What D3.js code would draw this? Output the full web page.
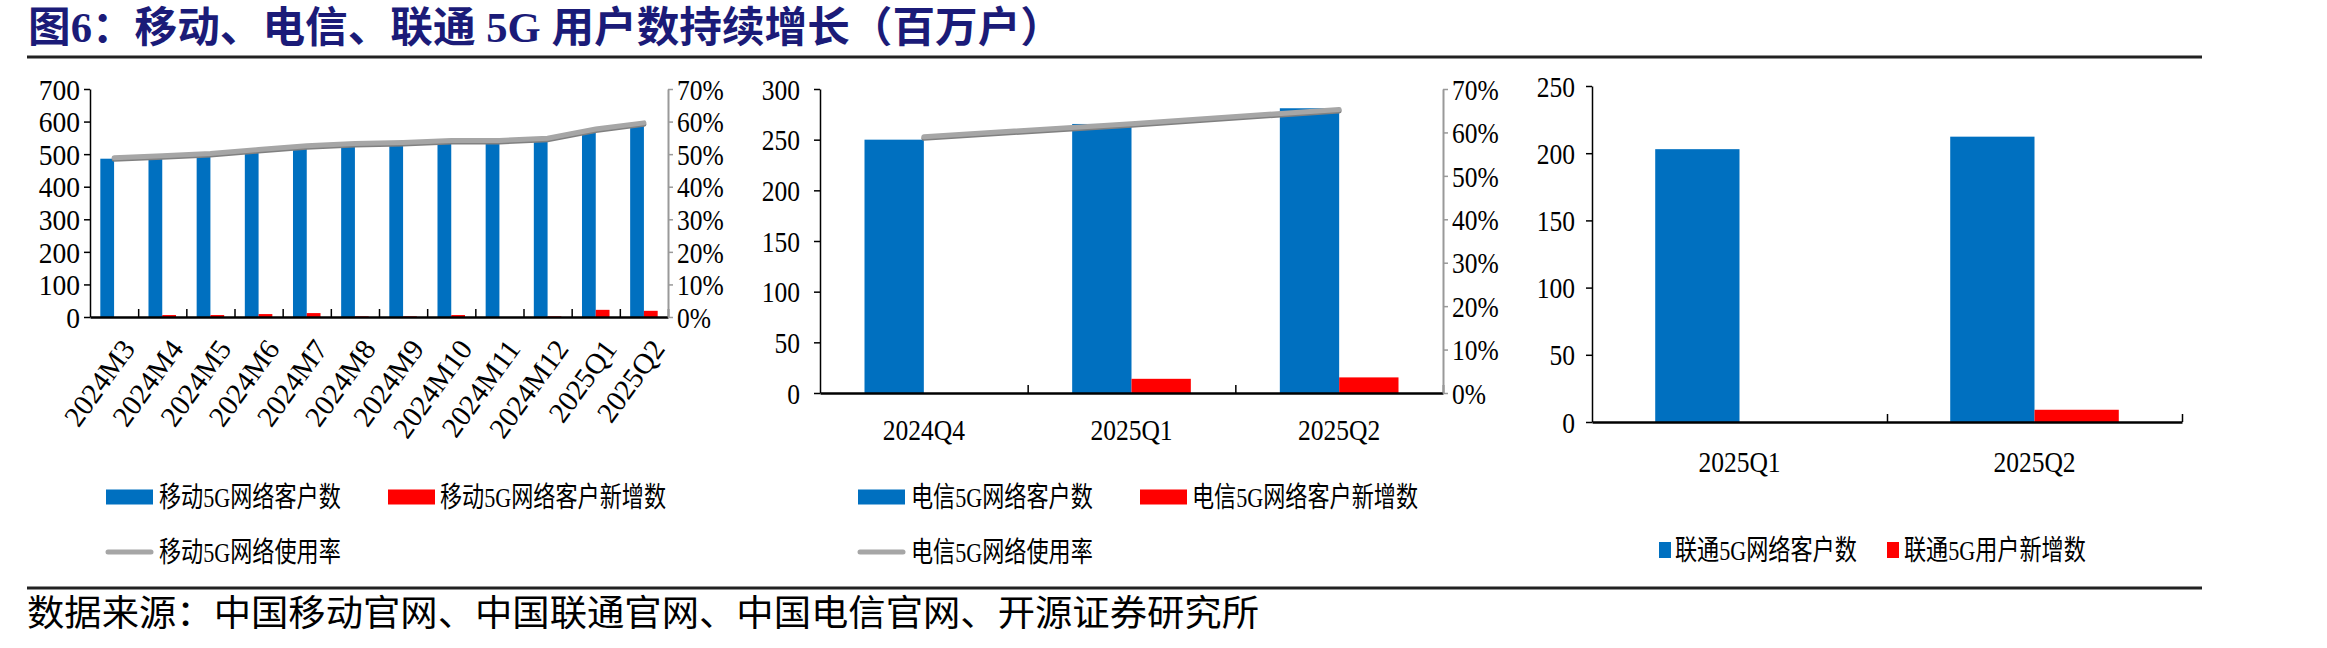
<!DOCTYPE html>
<html>
<head>
<meta charset="utf-8">
<script src="https://cdn.jsdelivr.net/npm/d3@7"></script>
<style>
  body { margin: 0; background: #fff; }
  svg { display: block; }
  .num { font-family: "Liberation Serif", "Times New Roman", serif; fill: #000; }
  .cjk { font-family: "Liberation Serif", "Noto Sans CJK SC", serif; fill: #000; }
</style>
</head>
<body>
<div id="chart"></div>
<script>
(function() {

  // -----------------------------
  // 1. DATA
  // -----------------------------
  const mobileCats  = ["2024M3", "2024M4", "2024M5", "2024M6", "2024M7", "2024M8",
                       "2024M9", "2024M10", "2024M11", "2024M12", "2025Q1", "2025Q2"];
  const mobileUsers = [486, 488, 494, 505, 519, 526, 531, 537, 537, 544, 568, 590];
  const mobileAdds  = [0, 6, 6, 9, 12, 2, 2, 6, 0, 2, 22, 19];
  const mobileRate  = [0.489, 0.495, 0.502, 0.514, 0.526, 0.533, 0.536, 0.542, 0.542, 0.549, 0.577, 0.596];

  const telecomCats  = ["2024Q4", "2025Q1", "2025Q2"];
  const telecomUsers = [250, 265.5, 281];
  const telecomAdds  = [0, 14, 15.4];
  const telecomRate  = [0.59, 0.62, 0.653];

  const unicomCats  = ["2025Q1", "2025Q2"];
  const unicomUsers = [203, 212.3];
  const unicomAdds  = [0, 9.1];

  const rateTicks = [0, 0.1, 0.2, 0.3, 0.4, 0.5, 0.6, 0.7];

  // -----------------------------
  // 2. SVG SETUP
  // -----------------------------
  const W = 2327, H = 648;
  const SX = 0.88;            // the source glyphs are a bit narrow
  const SX_LEG = 0.79;        // legend text is narrower still
  const BLUE = "#0070c0", RED = "#ff0000", GREY = "#a6a6a6";

  const svg = d3.select("#chart").append("svg")
      .attr("width", W)
      .attr("height", H);

  function put(g, x, y, str, size, anchor, cls, sx) {
    return g.append("text")
        .attr("class", cls || "num")
        .attr("transform", `translate(${x},${y}) scale(${sx || SX},1)`)
        .attr("text-anchor", anchor || "start")
        .attr("dy", "0.35em")
        .style("font-size", size + "px")
        .text(str);
  }

  // title + rules
  svg.append("text")
      .attr("x", 28).attr("y", 27)
      .attr("dy", "0.35em")
      .attr("textLength", 1035)
      .attr("lengthAdjust", "spacingAndGlyphs")
      .style("font-family", "'Liberation Serif', 'Noto Sans CJK SC', serif")
      .style("font-weight", "bold")
      .style("font-size", "42px")
      .style("fill", "#1b1b78")
      .text("图6：移动、电信、联通 5G 用户数持续增长（百万户）");

  svg.append("line").attr("x1", 27).attr("x2", 2202).attr("y1", 57).attr("y2", 57)
      .attr("stroke", "#222").attr("stroke-width", 3);
  svg.append("line").attr("x1", 27).attr("x2", 2202).attr("y1", 588).attr("y2", 588)
      .attr("stroke", "#222").attr("stroke-width", 3);

  svg.append("text")
      .attr("class", "cjk")
      .attr("x", 27).attr("y", 613)
      .attr("dy", "0.35em")
      .attr("textLength", 1232)
      .attr("lengthAdjust", "spacingAndGlyphs")
      .style("font-size", "36px")
      .text("数据来源：中国移动官网、中国联通官网、中国电信官网、开源证券研究所");

  // -----------------------------
  // 3. PANEL
  // -----------------------------
  function drawPanel(p) {
    const g = svg.append("g");
    const n = p.cats.length;

    const x = d3.scaleBand().domain(p.cats).range([p.x0, p.x1]);
    const bw = x.bandwidth();
    const sub = d3.scaleBand().domain(["users", "adds"]).range([0, bw])
        .paddingInner(0).paddingOuter(0.75);
    const y = d3.scaleLinear().domain([0, p.yMax]).range([p.yBot, p.yTop]);

    // bars
    g.selectAll(".bar-u")
      .data(p.cats)
      .enter().append("rect")
        .attr("x", d => x(d) + sub("users"))
        .attr("width", sub.bandwidth())
        .attr("y", (d, i) => y(p.users[i]))
        .attr("height", (d, i) => y(0) - y(p.users[i]))
        .attr("fill", BLUE);

    g.selectAll(".bar-a")
      .data(p.cats)
      .enter().append("rect")
        .attr("x", d => x(d) + sub("adds"))
        .attr("width", sub.bandwidth())
        .attr("y", (d, i) => y(p.adds[i]))
        .attr("height", (d, i) => y(0) - y(p.adds[i]))
        .attr("fill", RED);

    // left axis
    const ax = g.append("g")
        .attr("transform", `translate(${p.x0},0)`)
        .call(d3.axisLeft(y).tickValues(d3.range(0, p.yMax + 1, p.step))
          .tickSize(6).tickSizeOuter(0));
    ax.select(".domain").attr("stroke", "#000").attr("stroke-width", 1.5);
    ax.selectAll(".tick line").attr("stroke", "#000").attr("stroke-width", 1.5);
    ax.selectAll("text")
        .attr("class", "num")
        .attr("x", -p.gap / p.sxL)
        .attr("dy", "0.35em")
        .attr("transform", `scale(${p.sxL},1)`)
        .style("font-size", "29px");
    ax.attr("font-family", null).attr("font-size", null);

    // bottom axis: ticks point up at band edges
    const edge = d3.scaleLinear().domain([0, n]).range([p.x0, p.x1]);
    const bx = g.append("g")
        .attr("transform", `translate(0,${p.yBot})`)
        .call(d3.axisBottom(edge).tickValues(d3.range(1, n + 1))
          .tickSize(-8).tickSizeOuter(0).tickFormat(""));
    bx.select(".domain").attr("stroke", "#000").attr("stroke-width", 2.5);
    bx.selectAll(".tick line").attr("stroke", "#000").attr("stroke-width", 1.5);

    // right axis + line
    if (p.rate) {
      const yr = d3.scaleLinear().domain([0, 0.7]).range([p.yBot, p.yTop]);
      const rx = g.append("g")
          .attr("transform", `translate(${p.x1},0)`)
          .call(d3.axisRight(yr).tickValues(rateTicks)
            .tickSize(5).tickSizeOuter(0).tickFormat(d3.format(".0%")));
      rx.select(".domain").attr("stroke", "#999").attr("stroke-width", 2);
      rx.selectAll(".tick line").attr("stroke", "#999").attr("stroke-width", 1.5);
      rx.selectAll("text")
          .attr("class", "num")
          .attr("x", 9 / SX)
          .attr("dy", "0.35em")
          .attr("transform", `scale(${SX},1)`)
          .style("font-size", "29px");
      rx.attr("font-family", null).attr("font-size", null);

      const line = d3.line()
          .x((d, i) => x(p.cats[i]) + bw / 2)
          .y(d => yr(d));
      g.append("path").datum(p.rate)
          .attr("d", line)
          .attr("transform", "translate(0,1.5)")
          .attr("fill", "none").attr("stroke", "#808080").attr("stroke-width", 5)
          .attr("stroke-linecap", "round");
      g.append("path").datum(p.rate)
          .attr("d", line)
          .attr("fill", "none").attr("stroke", GREY).attr("stroke-width", 5)
          .attr("stroke-linecap", "round");
    }

    // category labels
    if (p.rotate) {
      g.selectAll(".xl")
        .data(p.cats)
        .enter().append("text")
          .attr("class", "num")
          .attr("text-anchor", "end")
          .attr("dy", "0.35em")
          .attr("transform", d => `translate(${x(d) + bw / 2 + 14},${p.yBot + 26}) rotate(-54)`)
          .style("font-size", "29px")
          .text(d => d);
    } else {
      p.cats.forEach(d => put(g, x(d) + bw / 2, p.labelY, d, 29, "middle"));
    }

    // legend
    p.legend.forEach(it => {
      if (it.type === "line") {
        g.append("line")
            .attr("x1", it.x + 2).attr("x2", it.x + it.w - 2)
            .attr("y1", it.y).attr("y2", it.y)
            .attr("stroke", GREY).attr("stroke-width", 5).attr("stroke-linecap", "round");
      } else {
        g.append("rect")
            .attr("x", it.x).attr("y", it.y - it.h / 2)
            .attr("width", it.w).attr("height", it.h)
            .attr("fill", it.color);
      }
      put(g, it.tx, it.y, it.label, 28, "start", "cjk", SX_LEG);
    });
  }

  // -----------------------------
  // 4. THREE PANELS
  // -----------------------------
  drawPanel({
    cats: mobileCats, users: mobileUsers, adds: mobileAdds, rate: mobileRate,
    x0: 90, x1: 668, yTop: 89, yBot: 317, yMax: 700, step: 100, gap: 10, sxL: 0.95,
    rotate: true,
    legend: [
      {x: 106, y: 497, w: 47, h: 15, color: BLUE, tx: 159, label: "移动5G网络客户数"},
      {x: 388, y: 497, w: 47, h: 15, color: RED, tx: 440, label: "移动5G网络客户新增数"},
      {x: 106, y: 552, w: 47, type: "line", tx: 159, label: "移动5G网络使用率"}
    ]
  });

  drawPanel({
    cats: telecomCats, users: telecomUsers, adds: telecomAdds, rate: telecomRate,
    x0: 820, x1: 1443, yTop: 89, yBot: 393, yMax: 300, step: 50, gap: 20, sxL: SX,
    labelY: 430,
    legend: [
      {x: 858, y: 497, w: 47, h: 15, color: BLUE, tx: 911, label: "电信5G网络客户数"},
      {x: 1140, y: 497, w: 47, h: 15, color: RED, tx: 1192, label: "电信5G网络客户新增数"},
      {x: 858, y: 552, w: 47, type: "line", tx: 911, label: "电信5G网络使用率"}
    ]
  });

  drawPanel({
    cats: unicomCats, users: unicomUsers, adds: unicomAdds,
    x0: 1592, x1: 2182, yTop: 86, yBot: 422, yMax: 250, step: 50, gap: 17, sxL: SX,
    labelY: 462,
    legend: [
      {x: 1659, y: 550, w: 12, h: 16, color: BLUE, tx: 1675, label: "联通5G网络客户数"},
      {x: 1887, y: 550, w: 12, h: 16, color: RED, tx: 1904, label: "联通5G用户新增数"}
    ]
  });

})();
</script>
</body>
</html>
